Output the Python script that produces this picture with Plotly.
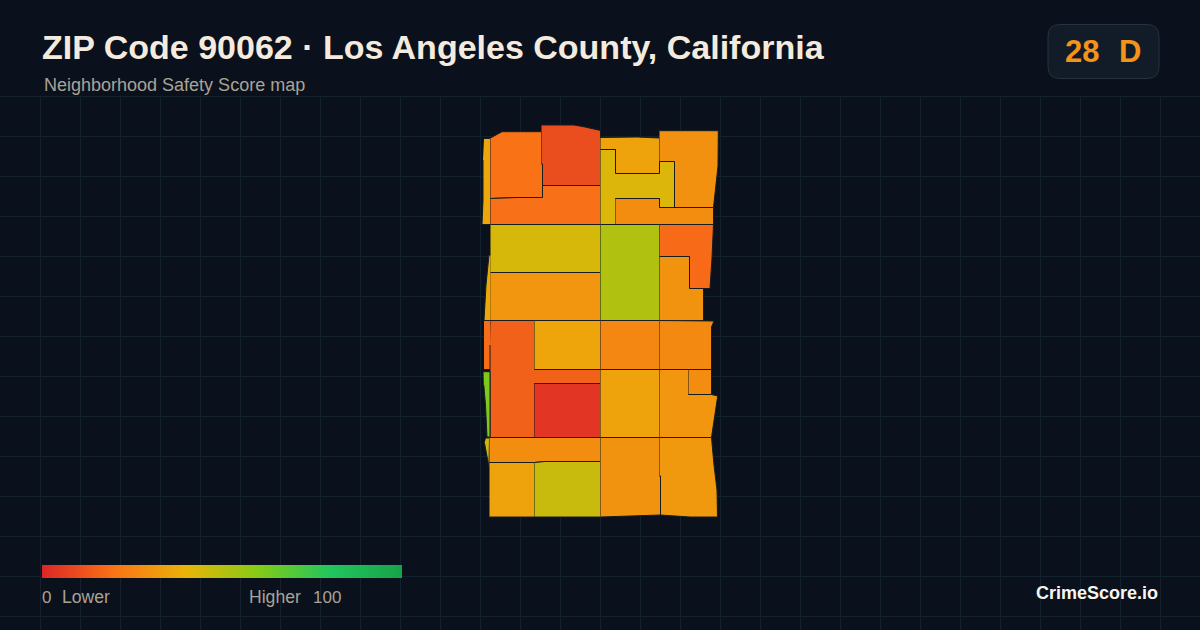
import plotly.graph_objects as go
from plotly.colors import sample_colorscale

# Neighborhood scores, one per tract
tract_scores = [36, 20, 10.4, 19.2, 35, 42.7, 29, 28, 44, 37, 31, 51.4, 17.6, 30, 18.4, 15.2, 35.5, 4,
                26, 27, 35, 31, 28, 61.6, 45, 28, 35, 46.7, 30, 31.5]

# Tract outlines (px)
tract_x = [
    [484, 490.5, 490.5, 482, 483, 483],
    [490.5, 497, 502, 541.5, 541.5, 542.5, 542.5, 517, 490.5],
    [541.5, 574, 585, 600.5, 600.5, 542.5, 542.5, 541.5],
    [490.5, 517, 542.5, 542.5, 600.5, 600.5, 490.5],
    [600.5, 637, 659.5, 659.5, 615.5, 615.5, 600.5],
    [600.5, 615.5, 615.5, 659.5, 659.5, 674.5, 674.5, 659.5, 659.5, 615.5, 615.5, 600.5],
    [659.5, 718.3, 718, 716, 713.5, 674.5, 674.5, 659.5],
    [615.5, 659.5, 659.5, 713.5, 713.5, 615.5],
    [490.5, 600.5, 600.5, 490.5],
    [490.5, 489, 486, 484, 490.5],
    [490.5, 600.5, 600.5, 490.5],
    [600.5, 659.5, 659.5, 600.5],
    [659.5, 713.5, 712, 710, 689.5, 689.5, 659.5],
    [659.5, 689.5, 689.5, 703.5, 703.5, 659.5],
    [484, 490.5, 490.5, 484],
    [490.5, 534.5, 534.5, 600.5, 600.5, 534.5, 534.5, 490, 490],
    [534.5, 600.5, 600.5, 534.5],
    [534.5, 600.5, 600.5, 534.5],
    [600.5, 659.5, 659.5, 600.5],
    [659.5, 714, 711.5, 711.5, 659.5],
    [600.5, 659.5, 659.5, 600.5],
    [659.5, 688.5, 688.5, 711.5, 717.7, 716, 713, 711.5, 659.5],
    [688.5, 711.5, 711.5, 688.5],
    [483.5, 490, 490, 487, 485.5, 483.8],
    [486, 489.5, 489, 487, 484.5],
    [489.5, 600.5, 600.5, 545, 534.5, 489.5],
    [489.5, 534.5, 534.5, 489.5],
    [534.5, 545, 600.5, 600.5, 534.5],
    [600.5, 659.5, 659.5, 660.5, 660.5, 646, 630, 616, 600.5],
    [659.5, 711.5, 714, 717, 717.5, 690, 660.5, 660.5, 659.5],
]
tract_y = [
    [138.5, 138.5, 224.5, 224.5, 200, 160],
    [138, 134, 131.7, 131.7, 164, 164, 197.5, 197.5, 198.5],
    [125, 125, 127, 130.5, 185.5, 185.5, 164, 164],
    [198.5, 197.5, 197.5, 185.5, 185.5, 224.5, 224.5],
    [137.5, 137, 138, 173.5, 173.5, 149.5, 149.5],
    [149.5, 149.5, 173.5, 173.5, 161.5, 161.5, 207.5, 207.5, 198.5, 198.5, 224.5, 224.5],
    [130.7, 130.7, 166, 185, 207.5, 207.5, 161.5, 161.5],
    [198.5, 198.5, 207.5, 207.5, 224.5, 224.5],
    [224.5, 224.5, 272.5, 272.5],
    [255, 255, 285, 320.5, 320.5],
    [272.5, 272.5, 320.5, 320.5],
    [224.5, 224.5, 320.5, 320.5],
    [224.5, 224.5, 258, 288.5, 288.5, 256.5, 256.5],
    [256.5, 256.5, 288.5, 288.5, 320.5, 320.5],
    [320.5, 320.5, 369.5, 369.5],
    [320.5, 320.5, 369.5, 369.5, 383.5, 383.5, 437.5, 437.5, 345],
    [320.5, 320.5, 369.5, 369.5],
    [383.5, 383.5, 437.5, 437.5],
    [320.5, 320.5, 369.5, 369.5],
    [320.5, 321, 327, 369.5, 369.5],
    [369.5, 369.5, 437.5, 437.5],
    [369.5, 369.5, 394.5, 394.5, 396, 408, 430, 437.5, 437.5],
    [369.5, 369.5, 394.5, 394.5],
    [371.7, 371.7, 437, 437, 405, 385],
    [438, 438, 467, 455, 443],
    [437.5, 437.5, 461.5, 461.5, 462.5, 462.5],
    [462.5, 462.5, 517, 517],
    [462.5, 461.5, 461.5, 517, 517],
    [437.5, 437.5, 476, 476, 515, 515.5, 516, 516.5, 517],
    [437.5, 437.5, 465, 490, 517, 517, 515, 476, 476],
]

grade_score = "28"
grade_letter = "D"
title_text = "ZIP Code 90062 · Los Angeles County, California"
subtitle_text = "Neighborhood Safety Score map"

score_scale = [[0, "#dc2626"], [0.2, "#f97316"], [0.4, "#eab308"],
               [0.6, "#84cc16"], [0.8, "#22c55e"], [1, "#16a34a"]]

BG = "#0a111c"
GRID = "#12212b"
MUTED = "#a9a396"

fig = go.Figure()

tract_colors = sample_colorscale(score_scale, [s / 100 for s in tract_scores])
for xs, ys, col in zip(tract_x, tract_y, tract_colors):
    fig.add_trace(go.Scatter(x=xs, y=ys, mode="lines", fill="toself", fillcolor=col,
                             line=dict(color="#171d1e", width=1), hoverinfo="skip"))

# colour ramp
fig.add_trace(go.Scatter(
    x=[None] * len(tract_scores), y=[None] * len(tract_scores), mode="markers",
    marker=dict(color=tract_scores, colorscale=score_scale, cmin=0, cmax=100, showscale=True,
                colorbar=dict(orientation="h", x=42 / 1200, xanchor="left", xpad=0,
                              y=1 - 565 / 630, yanchor="top", ypad=0,
                              lenmode="pixels", len=360, thicknessmode="pixels", thickness=13,
                              outlinewidth=0, ticks="", showticklabels=False)),
    hoverinfo="skip"))


def label(text, x, y, size, color, bold=False, anchor="left"):
    fig.add_annotation(x=x, y=y, xref="x", yref="y", text=f"<b>{text}</b>" if bold else text,
                       showarrow=False, xanchor=anchor, yanchor="middle", borderpad=0, borderwidth=0,
                       font=dict(family="Liberation Sans", size=size, color=color))


label(title_text, 41.5, 47, 34, "#f4ebde", bold=True)
label(subtitle_text, 44, 85, 18, MUTED)
label(grade_score, 1065, 51, 31, "#f39319", bold=True)
label(grade_letter, 1119, 51, 31, "#f39319", bold=True)
label("0", 42, 597, 17, MUTED)
label("Lower", 62, 597, 17.6, MUTED)
label("Higher", 249, 597, 17.6, MUTED)
label("100", 313, 597, 17, MUTED)
label("CrimeScore.io", 1158, 593, 18, "#f8f5f0", bold=True, anchor="right")

# header band hides the grid, then the score badge
fig.add_shape(type="rect", x0=0, x1=1200, y0=0, y1=95.5, layer="between", fillcolor=BG, line_width=0)
fig.add_shape(type="path", layer="between", fillcolor="#121c29", line=dict(color="#26323f", width=1),
              path="M 1060 24.5 L 1147 24.5 Q 1159 24.5 1159 36.5 L 1159 66.5 Q 1159 78.5 1147 78.5 "
                   "L 1060 78.5 Q 1048 78.5 1048 66.5 L 1048 36.5 Q 1048 24.5 1060 24.5 Z")

fig.update_xaxes(range=[0, 1200], tick0=0, dtick=40, gridcolor=GRID, gridwidth=1, zeroline=False,
                 showticklabels=False, ticks="", showline=False)
fig.update_yaxes(range=[630, 0], tick0=16, dtick=40, gridcolor=GRID, gridwidth=1, zeroline=False,
                 showticklabels=False, ticks="", showline=False)
fig.update_layout(width=1200, height=630, showlegend=False, paper_bgcolor=BG, plot_bgcolor=BG,
                  margin=dict(l=0, r=0, t=0, b=0, pad=0, autoexpand=False))

fig.write_html("out.html", post_script="document.body.style.margin='0';",
               config=dict(displayModeBar=False))
